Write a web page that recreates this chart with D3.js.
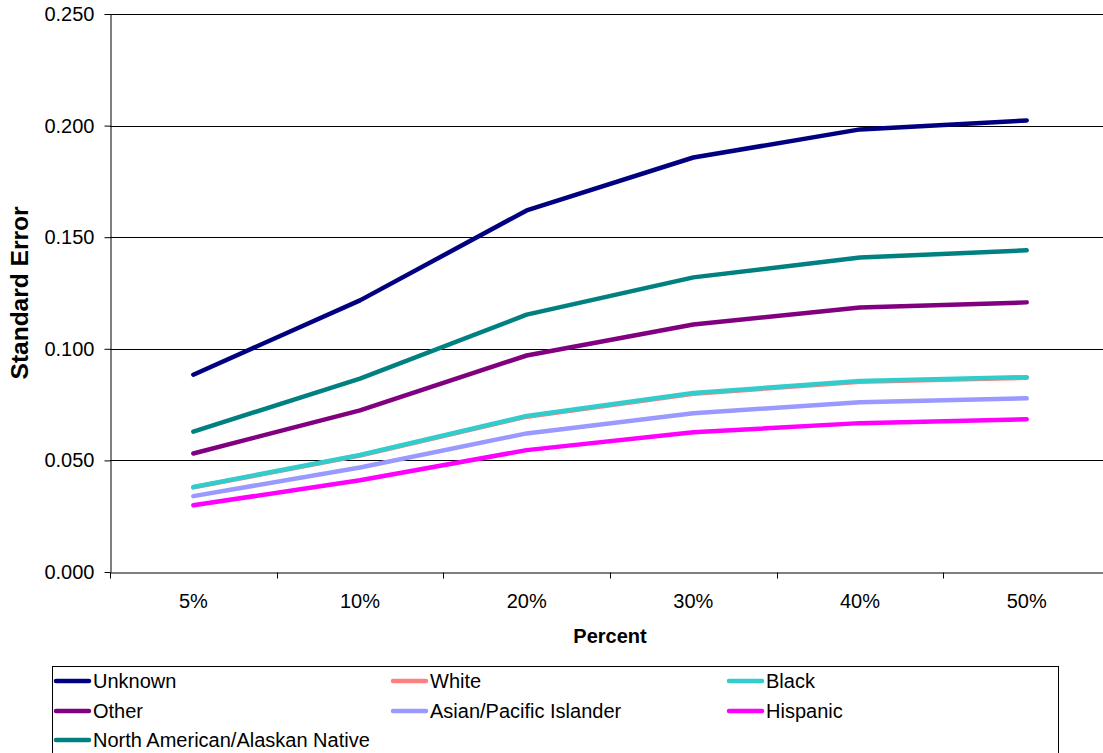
<!DOCTYPE html>
<html>
<head>
<meta charset="utf-8">
<script src="https://cdn.jsdelivr.net/npm/d3@7"></script>
<style>
  html, body { margin: 0; padding: 0; background: #fff; overflow: hidden; }
  svg { display: block; font-family: "Liberation Sans", Arial, sans-serif; }
</style>
</head>
<body>
<svg id="chart" width="1103" height="753"></svg>
<script>
const categories = ["5%", "10%", "20%", "30%", "40%", "50%"];
const seriesNames = ["Unknown", "White", "Black", "Other", "Asian/Pacific Islander", "Hispanic", "North American/Alaskan Native"];
const unknownVals  = [0.0884, 0.1217, 0.1620, 0.1857, 0.1983, 0.2023];
const whiteVals    = [0.0379, 0.0522, 0.0696, 0.0799, 0.0852, 0.0870];
const blackVals    = [0.0381, 0.0524, 0.0699, 0.0802, 0.0856, 0.0873];
const otherVals    = [0.0531, 0.0724, 0.0970, 0.1109, 0.1185, 0.1208];
const asianVals    = [0.0340, 0.0468, 0.0621, 0.0711, 0.0761, 0.0778];
const hispanicVals = [0.0299, 0.0411, 0.0546, 0.0626, 0.0667, 0.0684];
const nativeVals   = [0.0629, 0.0866, 0.1153, 0.1320, 0.1409, 0.1441];
const seriesColors = ["#000080", "#FF8080", "#33CCCC", "#800080", "#9999FF", "#FF00FF", "#008080"];
const yTicks = [0, 0.05, 0.10, 0.15, 0.20, 0.25];

const seriesValues = [unknownVals, whiteVals, blackVals, otherVals, asianVals, hispanicVals, nativeVals];
const series = seriesNames.map((n, i) => ({ name: n, values: seriesValues[i], color: seriesColors[i] }));

const svg = d3.select("#chart");
const L = 110, R = 1110, T = 14, B = 572;

const x = d3.scaleBand().domain(categories).range([L, R]).padding(0);
const y = d3.scaleLinear().domain([0, 0.25]).range([B, T]);
const cx = c => x(c) + x.bandwidth() / 2;

// gridlines
svg.append("g").selectAll("line").data(yTicks.filter(v => v > 0)).join("line")
  .attr("x1", L).attr("x2", R)
  .attr("y1", d => Math.round(y(d)) + 0.5).attr("y2", d => Math.round(y(d)) + 0.5)
  .attr("stroke", "#000").attr("stroke-width", 1);

// y axis
const yAxis = svg.append("g").attr("transform", `translate(${L + 0.5},0)`)
  .call(d3.axisLeft(y).tickValues(yTicks).tickFormat(d3.format(".3f")).tickSize(6).tickSizeOuter(0).tickPadding(10));
yAxis.select(".domain").attr("stroke", "#000");
yAxis.selectAll(".tick line").attr("stroke", "#000");
yAxis.selectAll("text").attr("font-size", "20px").attr("fill", "#000")
  .attr("font-family", "Liberation Sans, Arial, sans-serif");

// x axis
const xAxis = svg.append("g").attr("transform", `translate(0,${Math.round(B) + 0.5})`)
  .call(d3.axisBottom(x).tickSize(0).tickSizeOuter(0).tickPadding(21));
xAxis.select(".domain").attr("stroke", "#000");
xAxis.selectAll("text").attr("font-size", "20px").attr("fill", "#000")
  .attr("font-family", "Liberation Sans, Arial, sans-serif");
const boundaries = categories.map(c => x(c)).concat([x(categories[categories.length - 1]) + x.bandwidth()]);
xAxis.append("g").selectAll("line").data(boundaries).join("line")
  .attr("x1", d => Math.round(d) + 0.5).attr("x2", d => Math.round(d) + 0.5)
  .attr("y1", 0).attr("y2", 6).attr("stroke", "#000");

// lines
const line = d3.line().x((d, i) => cx(categories[i])).y(d => y(d));
svg.append("g").selectAll("path").data(series).join("path")
  .attr("d", d => line(d.values))
  .attr("fill", "none").attr("stroke", d => d.color)
  .attr("stroke-width", 4.5).attr("stroke-linecap", "round").attr("stroke-linejoin", "round");

// axis titles
svg.append("text").attr("transform", `translate(28,${(T + B) / 2}) rotate(-90)`)
  .attr("text-anchor", "middle").attr("font-weight", "bold").attr("font-size", "24.5px")
  .text("Standard Error");
svg.append("text").attr("x", (L + R) / 2).attr("y", 643)
  .attr("text-anchor", "middle").attr("font-weight", "bold").attr("font-size", "20px")
  .text("Percent");

// legend
const lg = svg.append("g");
lg.append("rect").attr("x", 52.5).attr("y", 666.5).attr("width", 1006).attr("height", 120)
  .attr("fill", "#fff").attr("stroke", "#000").attr("stroke-width", 1);
const colX = [55, 392, 728];
const rowY = [681, 711, 740];
const items = lg.selectAll("g.item").data(series).join("g").attr("class", "item")
  .attr("transform", (d, i) => `translate(${colX[i % 3]},${rowY[Math.floor(i / 3)]})`);
items.append("line").attr("x1", 1).attr("x2", 34).attr("y1", 0).attr("y2", 0)
  .attr("stroke", d => d.color).attr("stroke-width", 4.5).attr("stroke-linecap", "round");
items.append("text").attr("x", 38).attr("y", 7).attr("font-size", "20px").attr("fill", "#000")
  .text(d => d.name);
</script>
</body>
</html>
